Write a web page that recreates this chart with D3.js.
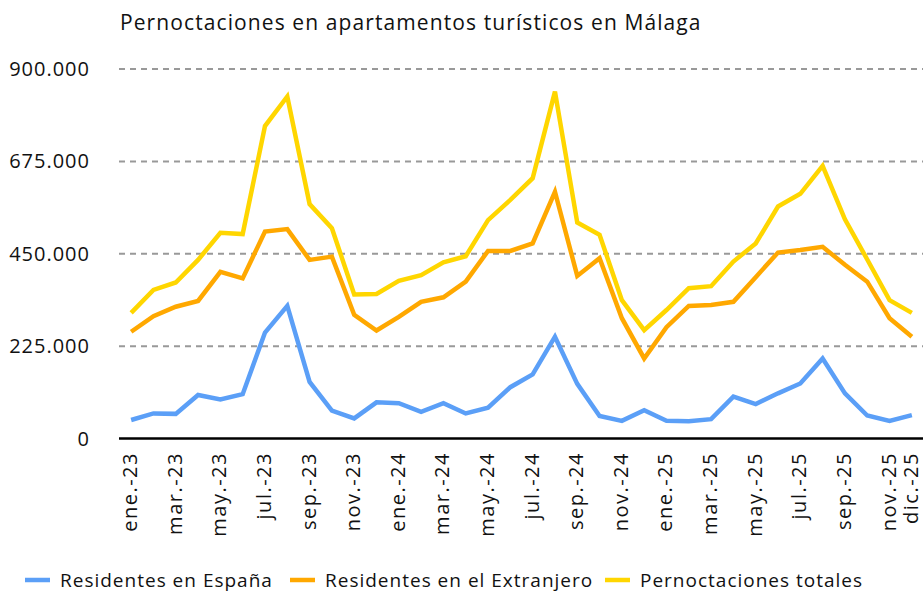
<!DOCTYPE html>
<html><head><meta charset="utf-8">
<script src="https://cdn.jsdelivr.net/npm/d3@7/dist/d3.min.js"></script>
<style>body{margin:0;background:#fff}svg{font-family:"Open Sans","Noto Sans",sans-serif}</style>
</head><body><svg id="c" width="923" height="594"></svg>
<script>
const months = ["ene.-23","feb.-23","mar.-23","abr.-23","may.-23","jun.-23","jul.-23","ago.-23","sep.-23","oct.-23","nov.-23","dic.-23",
"ene.-24","feb.-24","mar.-24","abr.-24","may.-24","jun.-24","jul.-24","ago.-24","sep.-24","oct.-24","nov.-24","dic.-24",
"ene.-25","feb.-25","mar.-25","abr.-25","may.-25","jun.-25","jul.-25","ago.-25","sep.-25","oct.-25","nov.-25","dic.-25"];
const shownLabels = ["ene.-23","mar.-23","may.-23","jul.-23","sep.-23","nov.-23","ene.-24","mar.-24","may.-24","jul.-24","sep.-24","nov.-24","ene.-25","mar.-25","may.-25","jul.-25","sep.-25","nov.-25","dic.-25"];
const espana = [45000,61000,60000,106000,95000,108000,258000,323000,138000,68000,49000,88000,
86000,65000,86000,61000,75000,125000,156000,248000,133000,55000,43000,69000,
43000,42000,47000,102000,84000,110000,134000,195000,110000,56000,43000,57000];
const extranjero = [260000,298000,321000,335000,406000,390000,504000,510000,435000,443000,301000,263000,
296000,333000,344000,382000,457000,457000,475000,601000,396000,439000,293000,195000,
271000,323000,325000,333000,393000,453000,459000,467000,423000,382000,293000,248000];
const totales = [306000,362000,380000,435000,501000,498000,761000,833000,571000,512000,351000,352000,
384000,398000,429000,444000,532000,581000,634000,845000,526000,496000,337000,264000,
313000,366000,371000,431000,475000,565000,596000,664000,534000,436000,337000,306000];
const yTicks = [0,225000,450000,675000,900000];
const seriesNames = ["Residentes en España","Residentes en el Extranjero","Pernoctaciones totales"];
const colors = ["#5b9ff7","#ffa800","#ffd600"];
const title = "Pernoctaciones en apartamentos turísticos en Málaga";

const svg = d3.select("#c");
const x = d3.scaleBand().domain(months).range([120,923]);
const y = d3.scaleLinear().domain([0,900000]).range([438.5,69]);
const fmt = v => d3.format(",")(v).replace(/,/g,".");

svg.append("text").attr("x",120).attr("y",30).attr("font-size",21)
  .attr("letter-spacing","1.1px").attr("fill","#111").text(title);

const grid = svg.append("g");
grid.selectAll("line").data(yTicks.filter(d=>d>0)).join("line")
  .attr("x1",119).attr("x2",923).attr("y1",d=>y(d)).attr("y2",d=>y(d))
  .attr("stroke","#999").attr("stroke-width",2).attr("stroke-dasharray","6,5");
grid.selectAll("text").data(yTicks).join("text")
  .attr("x",90).attr("y",d=>y(d)).attr("dy","0.35em").attr("text-anchor","end")
  .attr("font-size",20).attr("letter-spacing","1px").attr("fill","#111").text(d=>fmt(d));

svg.append("line").attr("x1",119).attr("x2",923).attr("y1",y(0)).attr("y2",y(0))
  .attr("stroke","#000").attr("stroke-width",2.5);

const cx = m => x(m)+x.bandwidth()/2;
svg.append("g").selectAll("text").data(shownLabels).join("text")
  .attr("transform",m=>`translate(${cx(m)+6},452) rotate(-90)`)
  .attr("text-anchor","end").attr("font-size",20).attr("letter-spacing","1.5px")
  .attr("fill","#111").text(m=>m);

const line = d3.line().x((d,i)=>cx(months[i])).y(d=>y(d));
[espana,extranjero,totales].forEach((s,k)=>{
  svg.append("path").datum(s).attr("d",line).attr("fill","none")
    .attr("stroke",colors[k]).attr("stroke-width",4.5).attr("stroke-linejoin","miter");
});

const legX = [25,290,605];
const lg = svg.append("g");
seriesNames.forEach((n,k)=>{
  lg.append("line").attr("x1",legX[k]).attr("x2",legX[k]+25).attr("y1",580).attr("y2",580)
    .attr("stroke",colors[k]).attr("stroke-width",4.5);
  lg.append("text").attr("x",legX[k]+35).attr("y",580).attr("dy","0.35em")
    .attr("font-size",19).attr("letter-spacing","1px").attr("fill","#111").text(n);
});
</script></body></html>
